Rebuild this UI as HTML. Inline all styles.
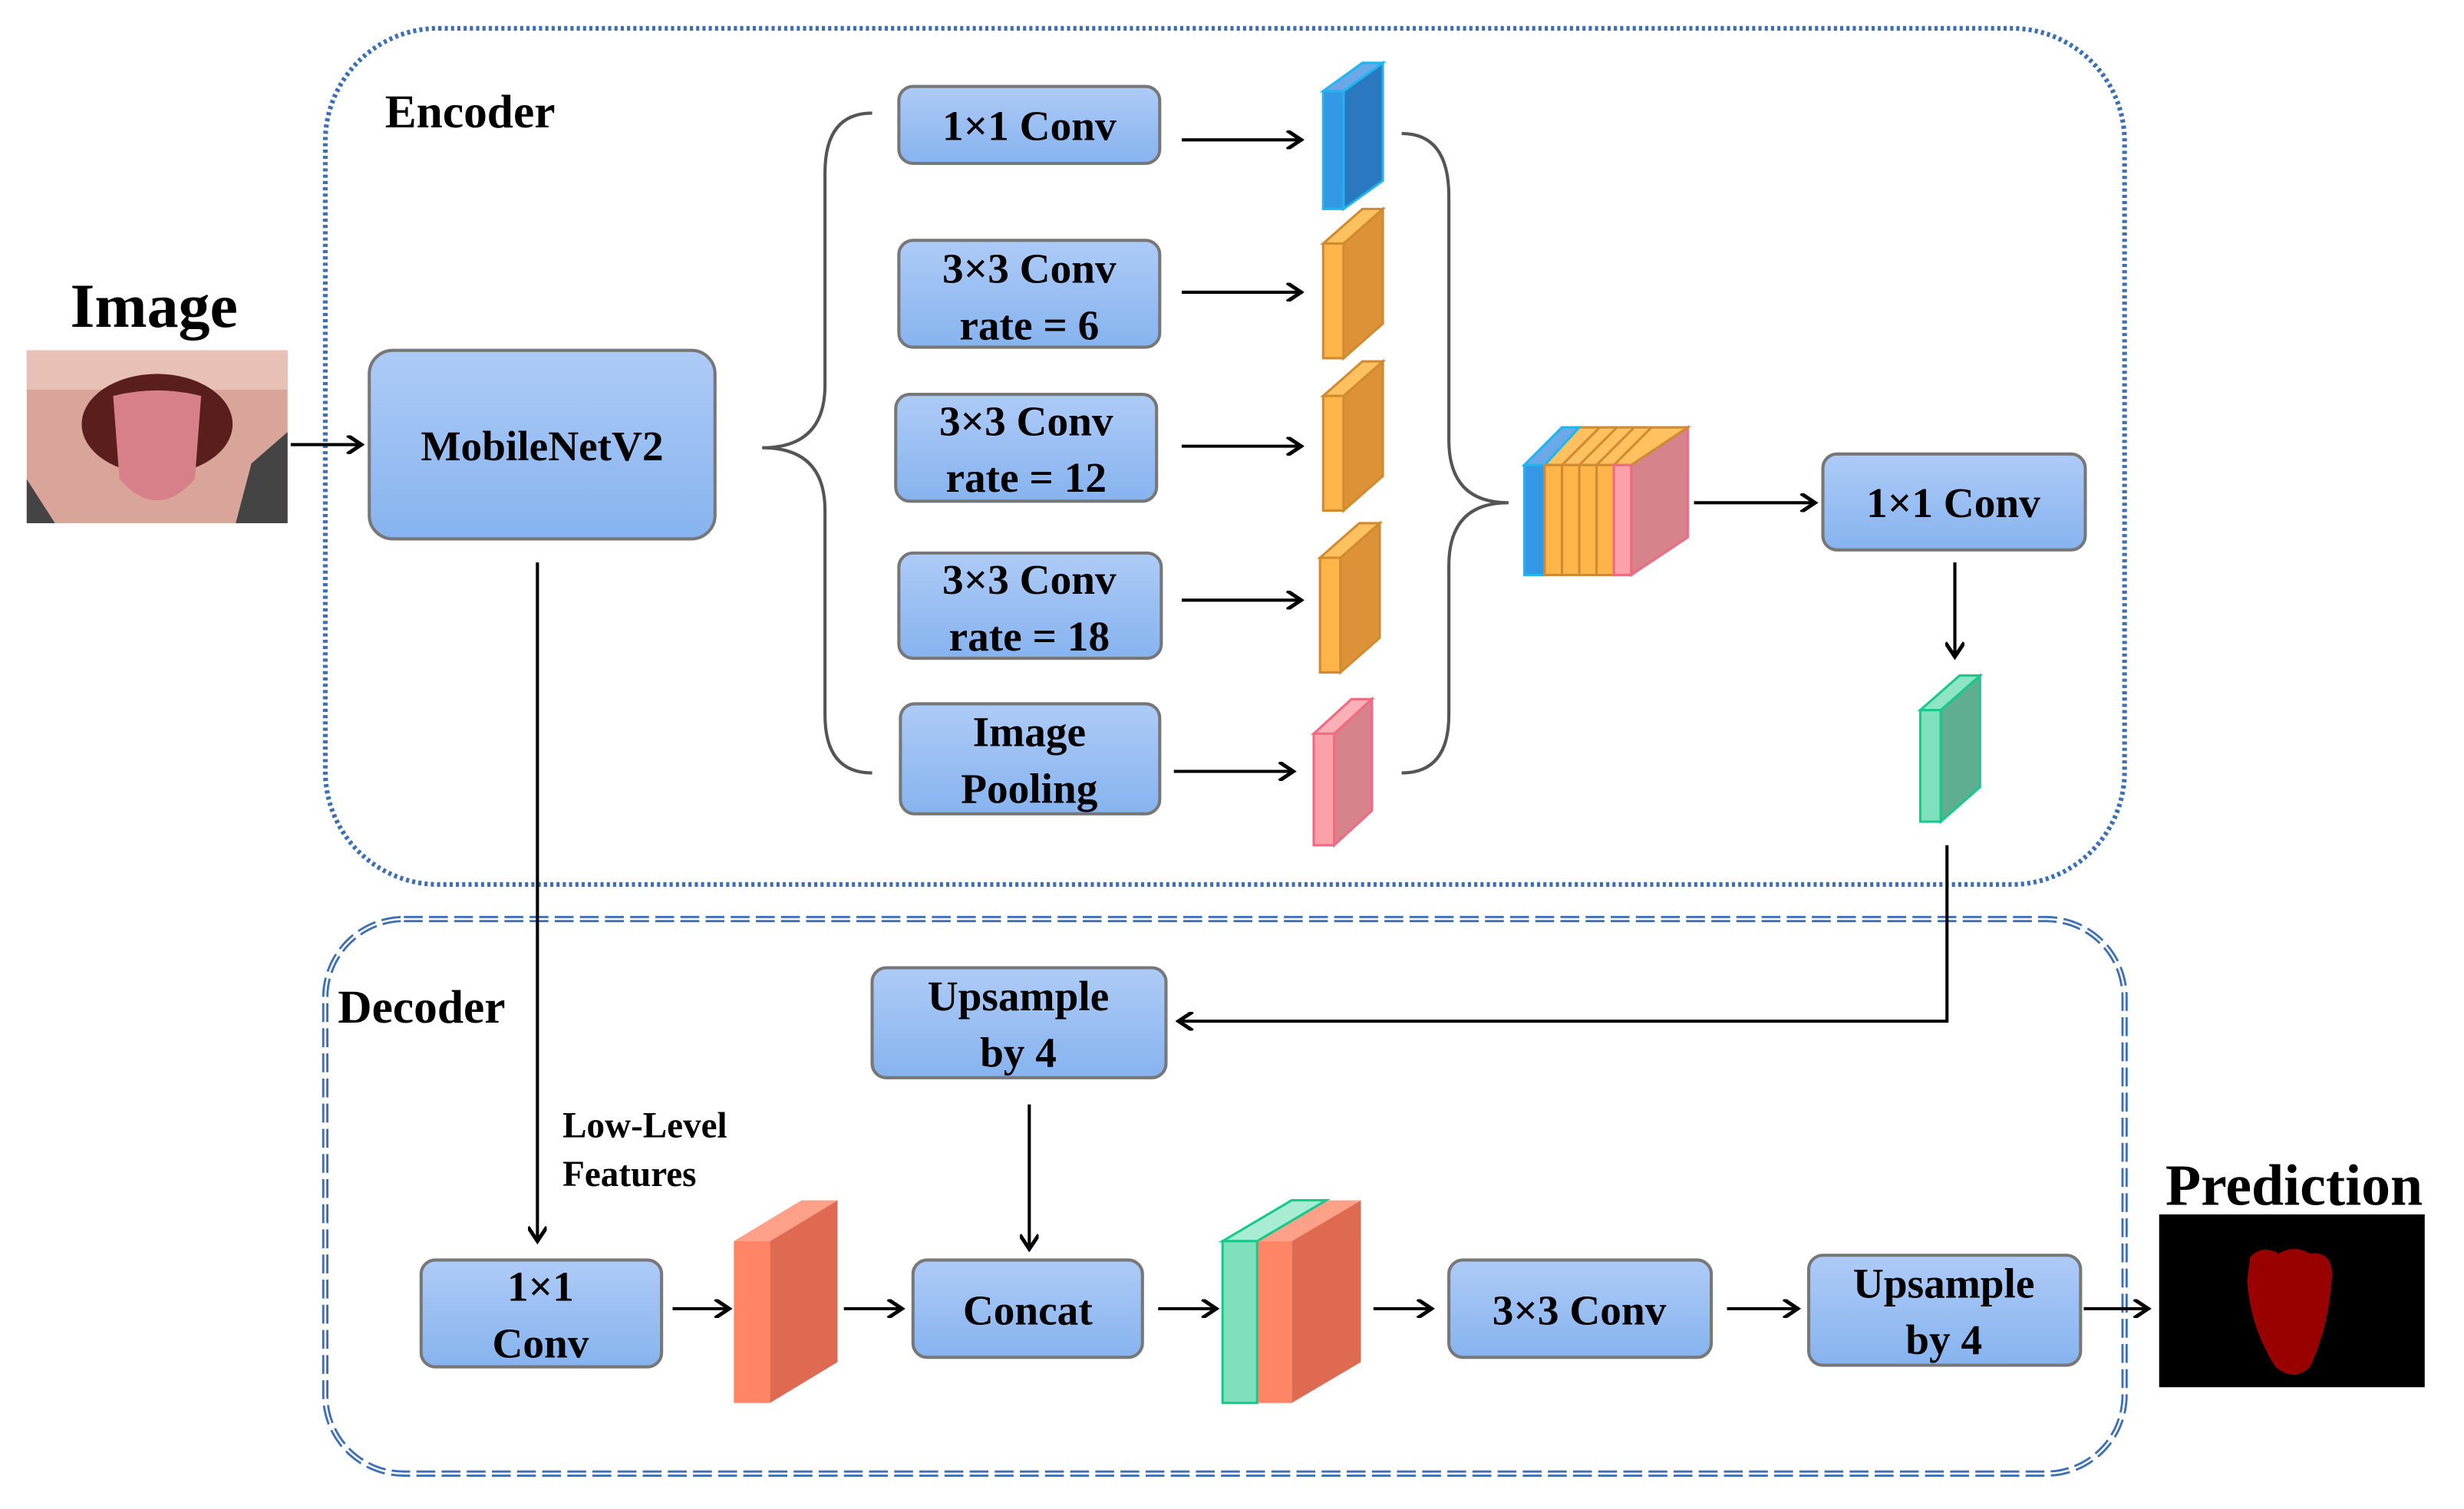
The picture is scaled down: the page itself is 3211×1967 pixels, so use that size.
<!DOCTYPE html>
<html><head><meta charset="utf-8"><style>html,body{margin:0;padding:0;background:#fff}svg{display:block}svg text{font-family:"Liberation Serif","DejaVu Serif",serif;font-weight:bold}</style></head>
<body>
<svg width="3211" height="1967" viewBox="0 0 1568 960.5" xmlns="http://www.w3.org/2000/svg">
<defs>
<linearGradient id="bg" x1="0" y1="0" x2="0" y2="1"><stop offset="0" stop-color="#aecbf6"/><stop offset="1" stop-color="#86b3ef"/></linearGradient>
<marker id="ar" markerWidth="12" markerHeight="12" refX="10" refY="6" orient="auto" markerUnits="userSpaceOnUse"><path d="M1,0 L10,6 L1,12" fill="none" stroke="#000" stroke-width="2.4"/></marker>
</defs>
<rect x="207" y="18" width="1145" height="545" rx="72" fill="none" stroke="#3d6fb6" stroke-width="3" stroke-dasharray="2 2"/>
<rect x="207" y="585" width="1145" height="353" rx="50" fill="none" stroke="#3d6fb6" stroke-width="4" stroke-dasharray="12 4"/>
<rect x="207" y="585" width="1145" height="353" rx="50" fill="none" stroke="#fff" stroke-width="1.2"/>
<text x="245" y="81" font-size="30">Encoder</text>
<text x="215" y="651" font-size="30">Decoder</text>
<text x="98" y="208" font-size="40" text-anchor="middle">Image</text>
<rect x="17" y="223" width="166" height="110" fill="#d9a59a"/>
<rect x="17" y="223" width="166" height="25" fill="#e8c0b6"/>
<ellipse cx="100" cy="270" rx="48" ry="32" fill="#5a1e1c"/>
<path d="M72 252 Q100 245 128 252 L124 305 Q100 332 76 305 Z" fill="#d8808a"/>
<path d="M160 295 L183 275 L183 333 L150 333 Z" fill="#444"/>
<path d="M17 305 L35 333 L17 333 Z" fill="#444"/>
<g stroke="#000" stroke-width="2" fill="none" marker-end="url(#ar)">
<line x1="185" y1="283" x2="230" y2="283"/>
<line x1="752" y1="89" x2="828" y2="89"/>
<line x1="752" y1="186" x2="828" y2="186"/>
<line x1="752" y1="284" x2="828" y2="284"/>
<line x1="752" y1="382" x2="828" y2="382"/>
<line x1="747" y1="491" x2="823" y2="491"/>
<line x1="1078" y1="320" x2="1155" y2="320"/>
<line x1="1244" y1="358" x2="1244" y2="418"/>
<polyline points="1239,538 1239,650 750,650"/>
<line x1="342" y1="358" x2="342" y2="790"/>
<line x1="655" y1="703" x2="655" y2="795"/>
<line x1="428" y1="833" x2="464" y2="833"/>
<line x1="537" y1="833" x2="574" y2="833"/>
<line x1="737" y1="833" x2="774" y2="833"/>
<line x1="874" y1="833" x2="911" y2="833"/>
<line x1="1099" y1="833" x2="1144" y2="833"/>
<line x1="1326" y1="833" x2="1367" y2="833"/>
</g>
<g fill="url(#bg)" stroke="#777" stroke-width="2">
<rect x="235" y="223" width="220" height="120" rx="15"/>
<rect x="572" y="55" width="166" height="49" rx="9"/>
<rect x="572" y="153" width="166" height="68" rx="9"/>
<rect x="570" y="251" width="166" height="68" rx="9"/>
<rect x="572" y="352" width="167" height="67" rx="9"/>
<rect x="573" y="448" width="165" height="70" rx="9"/>
<rect x="1160" y="289" width="167" height="61" rx="9"/>
<rect x="555" y="616" width="187" height="70" rx="9"/>
<rect x="268" y="802" width="153" height="68" rx="9"/>
<rect x="581" y="802" width="146" height="62" rx="9"/>
<rect x="922" y="802" width="167" height="62" rx="9"/>
<rect x="1151" y="799" width="173" height="70" rx="9"/>
</g>
<g font-size="27" text-anchor="middle" fill="#000">
<text x="345" y="293">MobileNetV2</text>
<text x="655" y="89">1×1 Conv</text>
<text x="655" y="180">3×3 Conv</text><text x="655" y="216">rate = 6</text>
<text x="653" y="277">3×3 Conv</text><text x="653" y="313">rate =  12</text>
<text x="655" y="378">3×3 Conv</text><text x="655" y="414">rate = 18</text>
<text x="655" y="475">Image</text><text x="655" y="511">Pooling</text>
<text x="1243" y="329">1×1 Conv</text>
<text x="648" y="643">Upsample</text><text x="648" y="679">by 4</text>
<text x="344" y="828">1×1</text><text x="344" y="864">Conv</text>
<text x="654" y="843">Concat</text>
<text x="1005" y="843">3×3 Conv</text>
<text x="1237" y="826">Upsample</text><text x="1237" y="862">by 4</text>
</g>
<text x="358" y="724" font-size="23">Low-Level</text>
<text x="358" y="755" font-size="23">Features</text>
<text x="1378" y="767" font-size="37">Prediction</text>
<g fill="none" stroke="#555" stroke-width="2">
<path d="M555 72 Q525 72 525 110 L525 245 Q525 285 485 285 Q525 285 525 325 L525 455 Q525 492 555 492"/>
<path d="M892 85 Q922 85 922 125 L922 280 Q922 320 960 320 Q922 320 922 360 L922 455 Q922 492 892 492"/>
</g>
<g stroke-width="1.5">
<g><polygon points="855,58 880,40 880,115 855,133" fill="#2a78c0" stroke="#1fb6ef"/><polygon points="842,58 867,40 880,40 855,58" fill="#6aa8e8" stroke="#1fb6ef"/><rect x="842" y="58" width="13" height="75" fill="#3399e6" stroke="#1fb6ef"/></g>
<g id="oc"><polygon points="855,155 880,133 880,206 855,228" fill="#de9238" stroke="#d08a30"/><polygon points="842,155 867,133 880,133 855,155" fill="#fdc160" stroke="#d08a30"/><rect x="842" y="155" width="13" height="73" fill="#fdb54a" stroke="#d08a30"/></g>
<use href="#oc" y="97"/>
<use href="#oc" x="-2" y="200"/>
<g><polygon points="849,467 873,445 873,516 849,538" fill="#d7838c" stroke="#f06a80"/><polygon points="836,467 860,445 873,445 849,467" fill="#fbb0b8" stroke="#f06a80"/><rect x="836" y="467" width="13" height="71" fill="#fca0aa" stroke="#f06a80"/></g>
<polygon points="1038,296 1074,272 1074,342 1038,366" fill="#d7838c" stroke="#f06a80"/>
<polygon points="970,296 994,272 1074,272 1038,296" fill="#fdc160" stroke="#d08a30"/>
<g stroke="#d08a30" fill="none"><line x1="994" y1="296" x2="1018" y2="272"/><line x1="1005" y1="296" x2="1029" y2="272"/><line x1="1016" y1="296" x2="1040" y2="272"/><line x1="1027" y1="296" x2="1051" y2="272"/></g>
<polygon points="970,296 994,272 1005,272 983,296" fill="#6aa8e8" stroke="#1fb6ef"/>
<rect x="970" y="296" width="13" height="70" fill="#3399e6" stroke="#1fb6ef"/>
<g fill="#fdb54a" stroke="#d08a30"><rect x="983" y="296" width="11" height="70"/><rect x="994" y="296" width="11" height="70"/><rect x="1005" y="296" width="11" height="70"/><rect x="1016" y="296" width="11" height="70"/></g>
<rect x="1027" y="296" width="11" height="70" fill="#fca0aa" stroke="#f06a80"/>
<polygon points="1235,452 1260,430 1260,501 1235,523" fill="#5fae92" stroke="#18c98c"/>
<polygon points="1222,452 1247,430 1260,430 1235,452" fill="#8ee4c4" stroke="#18c98c"/>
<rect x="1222" y="452" width="13" height="71" fill="#7ee0bd" stroke="#18c98c"/>
<polygon points="490,790 533,764 533,867 490,893" fill="#df6a52"/>
<polygon points="467,790 510,764 533,764 490,790" fill="#ffa088"/>
<rect x="467" y="790" width="23" height="103" fill="#ff8566"/>
<polygon points="822,790 866,764 866,867 822,893" fill="#df6a52"/>
<polygon points="778,790 822,764 866,764 822,790" fill="#ffa088"/>
<polygon points="778,790 822,764 844,764 800,790" fill="#a8ecd4" stroke="#18c98c"/>
<rect x="800" y="790" width="22" height="103" fill="#ff8566"/>
<rect x="778" y="790" width="22" height="103" fill="#7ee0bd" stroke="#18c98c"/>
</g>
<rect x="1374" y="773" width="169" height="110" fill="#000"/>
<path d="M1432 800 Q1440 792 1450 798 Q1460 792 1470 798 Q1484 796 1484 812 Q1482 845 1470 870 Q1460 880 1448 870 Q1432 845 1430 815 Z" fill="#990000"/>
</svg>
</body></html>
